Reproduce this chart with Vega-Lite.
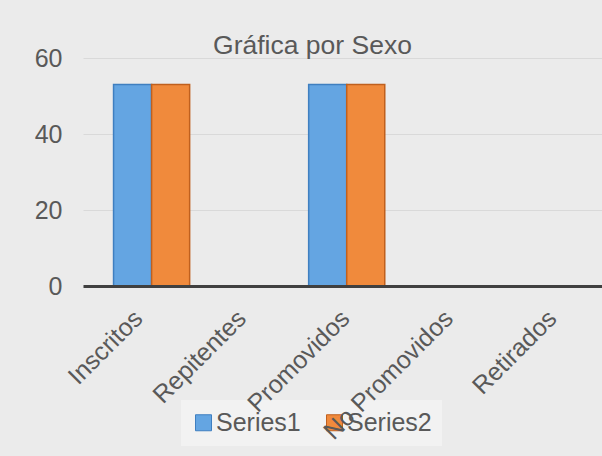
{
  "$schema": "https://vega.github.io/schema/vega-lite/v6.json",
  "width": 519,
  "height": 228,
  "autosize": {"type": "none"},
  "padding": {"left": 83, "top": 58, "right": 0, "bottom": 170},
  "background": "#ebebeb",
  "title": {
    "text": "Gráfica por Sexo",
    "fontSize": 26.5,
    "font": "Liberation Sans",
    "fontWeight": "normal",
    "color": "#595959",
    "anchor": "middle",
    "frame": "group",
    "dx": -30,
    "dy": 38,
    "baseline": "alphabetic",
    "offset": 4
  },
  "data": {
    "values": [
      {"categoria": "Inscritos", "serie": "Series1", "valor": 53},
      {"categoria": "Inscritos", "serie": "Series2", "valor": 53},
      {"categoria": "Repitentes", "serie": "Series1", "valor": 0},
      {"categoria": "Repitentes", "serie": "Series2", "valor": 0},
      {"categoria": "Promovidos", "serie": "Series1", "valor": 53},
      {"categoria": "Promovidos", "serie": "Series2", "valor": 53},
      {"categoria": "No Promovidos", "serie": "Series1", "valor": 0},
      {"categoria": "No Promovidos", "serie": "Series2", "valor": 0},
      {"categoria": "Retirados", "serie": "Series1", "valor": 0},
      {"categoria": "Retirados", "serie": "Series2", "valor": 0}
    ]
  },
  "layer": [
    {
      "mark": {"type": "bar", "strokeWidth": 1.5},
      "encoding": {
        "x": {
          "field": "categoria",
          "type": "nominal",
          "sort": null,
          "scale": {"paddingInner": 0.22, "paddingOuter": 0.27, "align": 0.58},
          "axis": {
            "orient": "bottom",
            "title": null,
            "labels": false,
            "ticks": false,
            "tickSize": 0,
            "domainColor": "#404040",
            "domainWidth": 3,
            "grid": false,
            "zindex": 1
          }
        },
        "xOffset": {"field": "serie", "type": "nominal", "scale": {"paddingInner": 0}},
        "y": {
          "field": "valor",
          "type": "quantitative",
          "scale": {"domain": [0, 60]},
          "axis": {
            "title": null,
            "values": [0, 20, 40, 60],
            "domain": false,
            "ticks": false,
            "tickSize": 0,
            "labelPadding": 21,
            "labelFontSize": 25,
            "labelFont": "Liberation Sans",
            "labelColor": "#595959",
            "gridColor": "#d9d9d9",
            "gridWidth": 1
          }
        },
        "color": {
          "field": "serie",
          "type": "nominal",
          "scale": {"domain": ["Series1", "Series2"], "range": ["#64a5e2", "#f08a3c"]},
          "legend": {
            "title": null,
            "orient": "none",
            "legendX": 98,
            "legendY": 342,
            "direction": "horizontal",
            "symbolType": "square",
            "symbolSize": 256,
            "symbolStrokeWidth": 1,
            "labelFontSize": 25,
            "labelFont": "Liberation Sans",
            "labelColor": "#595959",
            "labelOffset": 0,
            "columnPadding": 21,
            "padding": 10,
            "fillColor": "rgba(246,246,246,0.6)",
            "zindex": 0
          }
        },
        "stroke": {
          "field": "serie",
          "type": "nominal",
          "scale": {"domain": ["Series1", "Series2"], "range": ["#3f7fc0", "#c0601e"]},
          "legend": null
        }
      }
    },
    {
      "mark": {"type": "point", "opacity": 0},
      "encoding": {
        "x": {
          "field": "categoria",
          "type": "nominal",
          "sort": null,
          "scale": {"type": "point", "padding": 0.507, "align": 0.571},
          "axis": {
            "orient": "bottom",
            "title": null,
            "domain": false,
            "ticks": false,
            "tickSize": 0,
            "labelAngle": -45,
            "labelAlign": "right",
            "labelBaseline": "middle",
            "labelPadding": 28,
            "labelOffset": -5,
            "labelFontSize": 25,
            "labelFont": "Liberation Sans",
            "labelColor": "#595959",
            "grid": false,
            "zindex": 2
          }
        }
      }
    }
  ],
  "resolve": {"scale": {"x": "independent"}, "axis": {"x": "independent"}},
  "config": {"view": {"stroke": null}}
}
